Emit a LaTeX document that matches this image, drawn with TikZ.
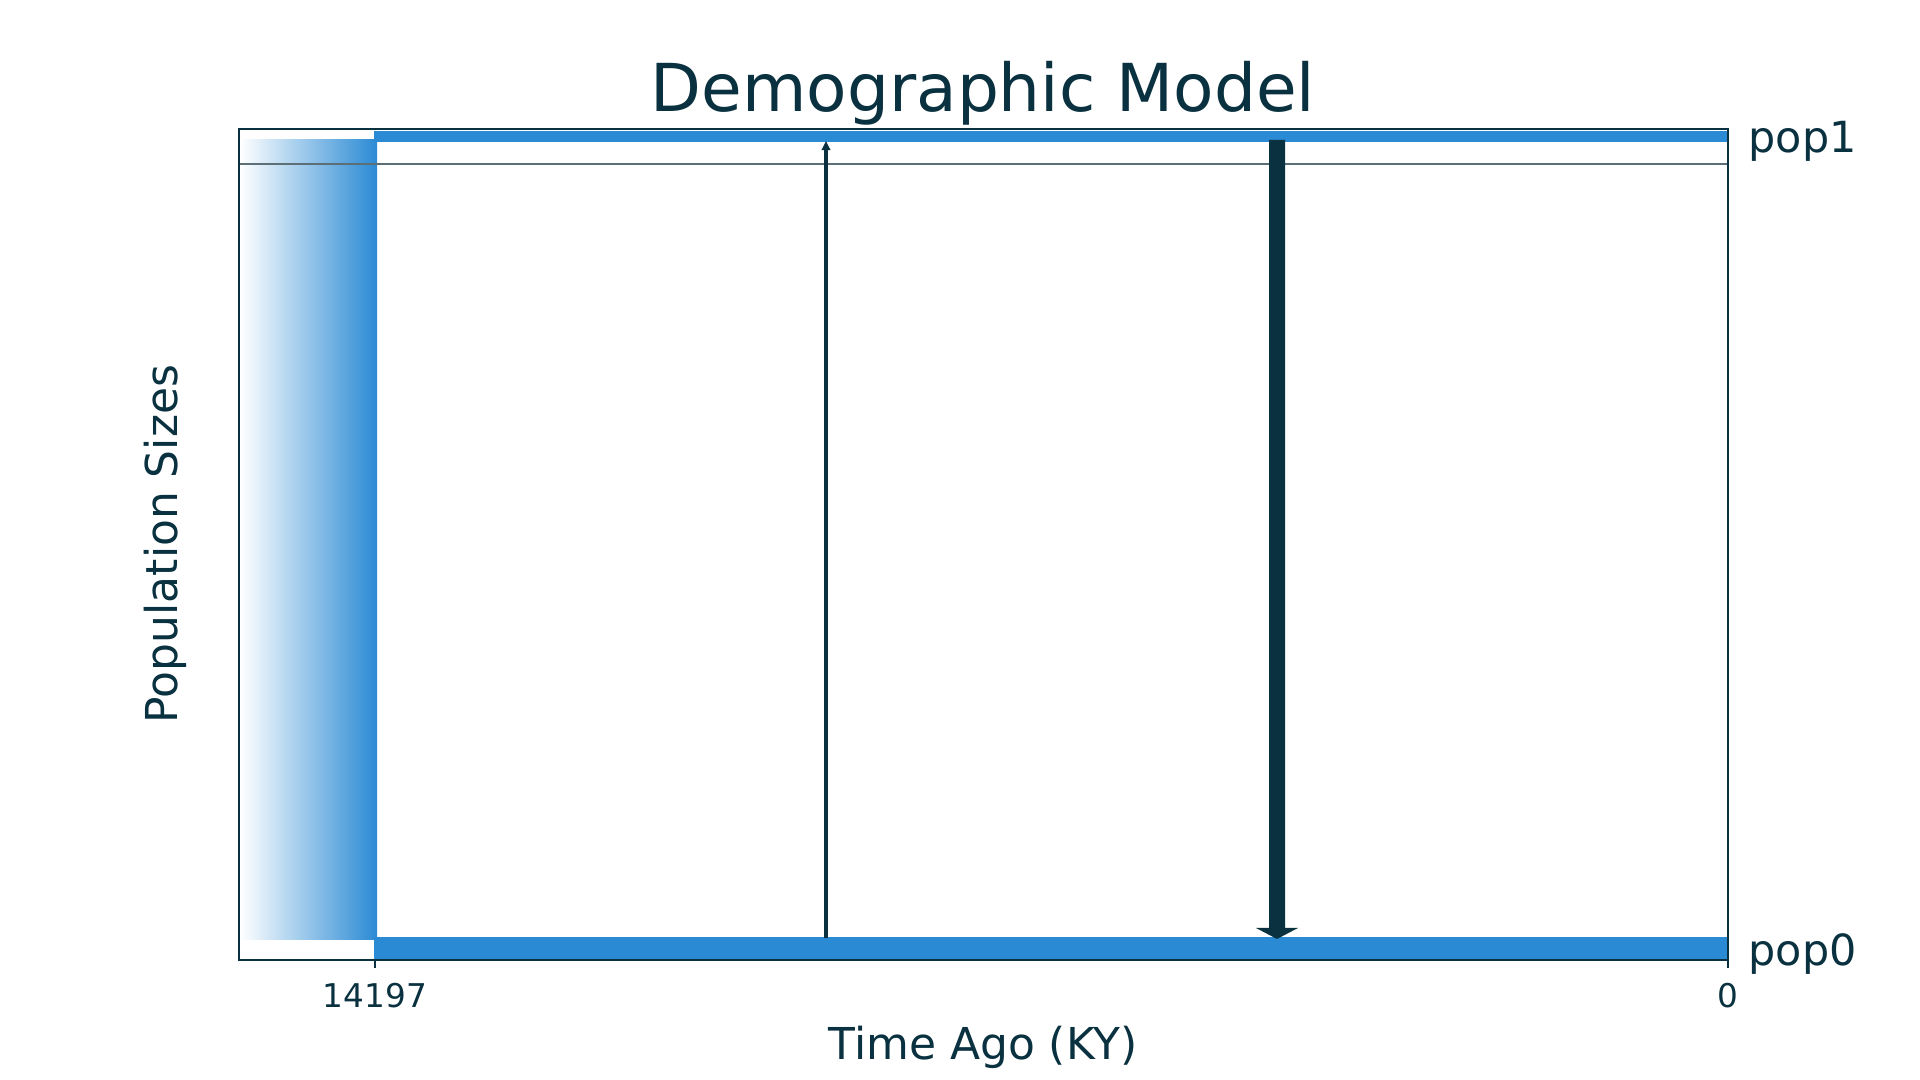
\documentclass[tikz,border=0pt]{standalone}
\usepackage{fontspec}
\setmainfont{DejaVu Sans}
\usetikzlibrary{arrows.meta}
\definecolor{popblue}{HTML}{2A8AD4}
\definecolor{ink}{HTML}{0A3140}
\definecolor{gridgray}{HTML}{5C6F76}
\tikzset{
  band/.style={fill=popblue, draw=none},
  frame/.style={draw=ink, line width=0.6pt},
  poplabel/.style={anchor=west, text=ink, font=\fontsize{12.2}{14}\selectfont, inner sep=0pt},
  ticklabel/.style={anchor=north, text=ink, font=\fontsize{9.3}{11}\selectfont, inner sep=0pt},
  axlabel/.style={text=ink, font=\fontsize{12.5}{15}\selectfont, inner sep=0pt},
}
\begin{document}
\begin{tikzpicture}[x=0.01cm,y=-0.01cm]
\useasboundingbox[fill=white] (0,0) rectangle (1920,1080);
% gradient (ancestral population)
\shade[left color=white, right color=popblue] (240,140) rectangle (377,940);
% population bands
\fill[band] (374,131) rectangle (1728,142);
\fill[band] (374,937) rectangle (1728,960);
% separation line
\draw[gridgray, line width=0.7pt] (239,164) -- (1728,164);
% axes frame
\draw[frame] (239,129) rectangle (1728,960);
% ticks
\coordinate (t1) at (375,960);
\coordinate (t0) at (1728,960);
\draw[ink, line width=0.6pt] (t1) -- ++(0,8);
\draw[ink, line width=0.6pt] (t0) -- ++(0,8);
\node[ticklabel] (l1) at (375,983) {14197};
\node[ticklabel] (l0) at (1728,983) {0};
% migration arrows
\coordinate (a0) at (826,938);
\coordinate (a1) at (826,141);
\draw[ink, line width=1pt, -{Triangle[length=2.6pt,width=2.4pt]}] (a0) -- (a1);
\coordinate (b0) at (1277,140);
\coordinate (b1) at (1277,939);
\fill[ink] (1269,140) -- (1285,140) -- (1285,928) -- (1298,928) -- (b1) -- (1256,928) -- (1269,928) -- cycle;
% labels
\node[poplabel] (p1) at (1748,141) {pop1};
\node[poplabel] (p0) at (1748,954) {pop0};
\node[text=ink, font=\fontsize{18.8}{22}\selectfont, inner sep=0pt] (title) at (983,93) {Demographic Model};
\node[axlabel] (xl) at (983,1047) {Time Ago (KY)};
\node[axlabel, rotate=90] (yl) at (165,544) {Population Sizes};
\end{tikzpicture}
\end{document}
